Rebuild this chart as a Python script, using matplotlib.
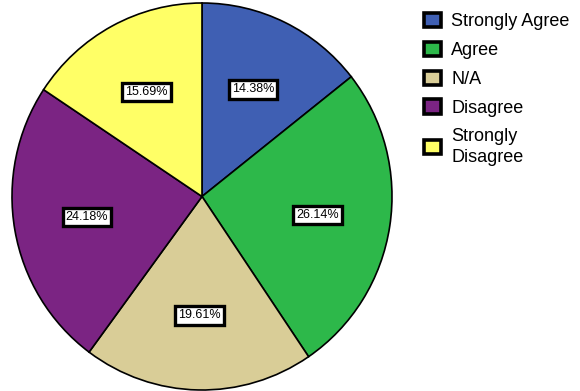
import matplotlib.pyplot as plt
from matplotlib.patches import Patch

plt.rcParams["font.family"] = ["Liberation Sans", "DejaVu Sans"]

labels = ["Strongly Agree", "Agree", "N/A", "Disagree", "Strongly\nDisagree"]
values = [14.38, 26.14, 19.61, 24.18, 15.69]
colors = ["#3f5fb3", "#2db84a", "#d9cd97", "#7b2483", "#ffff66"]

fig = plt.figure(figsize=(5.8, 3.91), dpi=100)
ax = fig.add_axes([12/580, 1/391, 380/580, 387/391])

wedges, texts, autotexts = ax.pie(values, colors=colors, startangle=90, counterclock=False,
                                  autopct="%.2f%%", pctdistance=0.615,
                                  wedgeprops=dict(edgecolor="black", linewidth=1.2))
ax.set_aspect("auto")
ax.set_xlim(-1, 1)
ax.set_ylim(-1, 1)

for t in autotexts:
    t.set_fontsize(9)
    t.set_color("black")
    t.set_bbox(dict(facecolor="white", edgecolor="black", linewidth=2.4, boxstyle="square,pad=0.25"))

#legend with black outlined squares
handles = [Patch(facecolor=c, edgecolor="black", linewidth=2.6) for c in colors]
leg = fig.legend(handles, labels, loc="upper left", bbox_to_anchor=(424/580, 1 - 13/391),
                 frameon=False, fontsize=13, handlelength=0.95, handleheight=0.85,
                 handletextpad=0.55, labelspacing=0.63, borderpad=0, borderaxespad=0)
for t in leg.get_texts():
    t.set_linespacing(1.25)

fig.savefig("out.png", dpi=100)
